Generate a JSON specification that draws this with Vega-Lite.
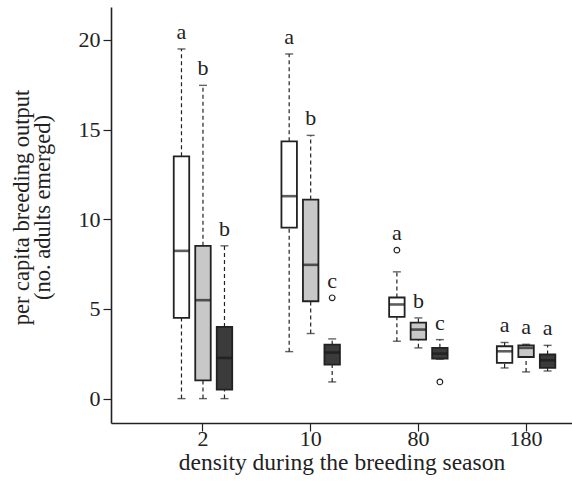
{
  "$schema": "https://vega.github.io/schema/vega-lite/v6.json",
  "autosize": {"type": "none"},
  "padding": {"left": 111, "top": 7, "right": 0, "bottom": 67},
  "width": 461,
  "height": 416,
  "background": "white",
  "config": {
    "view": {"stroke": null},
    "font": "Liberation Serif",
    "axis": {
      "labelFont": "Liberation Serif",
      "titleFont": "Liberation Serif",
      "labelFontSize": 22,
      "titleFontSize": 22.5,
      "labelColor": "#222",
      "titleColor": "#222",
      "titleFontWeight": "normal",
      "domainColor": "#222",
      "domainWidth": 1.6,
      "tickColor": "#222",
      "tickWidth": 1.2,
      "tickSize": 8,
      "grid": false
    }
  },
  "data": {
    "values": [
      {"density": "2", "treatment": "1", "min": 0, "q1": 4.5, "median": 8.24, "q3": 13.51, "max": 19.5, "outlier": null, "letter": "a"},
      {"density": "2", "treatment": "2", "min": 0, "q1": 1.02, "median": 5.49, "q3": 8.52, "max": 17.47, "outlier": null, "letter": "b"},
      {"density": "2", "treatment": "3", "min": 0, "q1": 0.5, "median": 2.27, "q3": 4.0, "max": 8.52, "outlier": null, "letter": "b"},
      {"density": "10", "treatment": "1", "min": 2.62, "q1": 9.54, "median": 11.29, "q3": 14.35, "max": 19.22, "outlier": null, "letter": "a"},
      {"density": "10", "treatment": "2", "min": 3.63, "q1": 5.43, "median": 7.46, "q3": 11.1, "max": 14.68, "outlier": null, "letter": "b"},
      {"density": "10", "treatment": "3", "min": 0.93, "q1": 1.9, "median": 2.57, "q3": 3.01, "max": 3.33, "outlier": 5.62, "letter": "c"},
      {"density": "80", "treatment": "1", "min": 3.2, "q1": 4.56, "median": 5.25, "q3": 5.64, "max": 7.07, "outlier": 8.28, "letter": "a"},
      {"density": "80", "treatment": "2", "min": 2.83, "q1": 3.29, "median": 3.85, "q3": 4.24, "max": 4.5, "outlier": null, "letter": "b"},
      {"density": "80", "treatment": "3", "min": 2.2, "q1": 2.23, "median": 2.51, "q3": 2.83, "max": 3.29, "outlier": 0.93, "letter": "c"},
      {"density": "180", "treatment": "1", "min": 1.71, "q1": 1.99, "median": 2.64, "q3": 2.92, "max": 3.13, "outlier": null, "letter": "a"},
      {"density": "180", "treatment": "2", "min": 1.49, "q1": 2.32, "median": 2.83, "q3": 2.97, "max": 3.03, "outlier": null, "letter": "a"},
      {"density": "180", "treatment": "3", "min": 1.54, "q1": 1.71, "median": 2.14, "q3": 2.46, "max": 2.97, "outlier": null, "letter": "a"}
    ]
  },
  "encoding": {
    "x": {
      "field": "density",
      "type": "nominal",
      "sort": ["2", "10", "80", "180"],
      "scale": {"paddingInner": 0.457, "paddingOuter": 0.3687, "align": 0.79},
      "axis": {"labelAngle": 0, "labelPadding": -3, "title": "density during the breeding season", "titlePadding": 1, "titleFontSize": 23.5}
    },
    "xOffset": {
      "field": "treatment",
      "type": "nominal",
      "sort": ["1", "2", "3"],
      "scale": {"paddingInner": 0.28, "paddingOuter": 0}
    }
  },
  "layer": [
    {
      "mark": {"type": "rule", "strokeDash": [4, 3], "color": "#222", "strokeWidth": 1.2},
      "encoding": {
        "y": {
          "field": "q3",
          "type": "quantitative",
          "scale": {"domain": [-1.36, 21.84], "nice": false, "zero": false},
          "axis": {
            "values": [0, 5, 10, 15, 20],
            "labelPadding": 3,
            "title": ["per capita breeding output", "(no. adults emerged)"],
            "titleLineHeight": 20.5,
            "titlePadding": 24,
            "titleY": 200
          }
        },
        "y2": {"field": "max"}
      }
    },
    {
      "mark": {"type": "rule", "strokeDash": [4, 3], "color": "#222", "strokeWidth": 1.2},
      "encoding": {
        "y": {"field": "min", "type": "quantitative"},
        "y2": {"field": "q1"}
      }
    },
    {
      "mark": {"type": "tick", "color": "#222", "size": 8, "thickness": 1.4, "orient": "horizontal"},
      "encoding": {"y": {"field": "max", "type": "quantitative"}}
    },
    {
      "mark": {"type": "tick", "color": "#222", "size": 8, "thickness": 1.4, "orient": "horizontal"},
      "encoding": {"y": {"field": "min", "type": "quantitative"}}
    },
    {
      "mark": {"type": "bar", "stroke": "#222", "strokeWidth": 1.8},
      "encoding": {
        "y": {"field": "q1", "type": "quantitative"},
        "y2": {"field": "q3"},
        "fill": {
          "field": "treatment",
          "type": "nominal",
          "scale": {"domain": ["1", "2", "3"], "range": ["#ffffff", "#c8c8c8", "#3b3b3b"]},
          "legend": null
        }
      }
    },
    {
      "mark": {"type": "tick", "color": "#1a1a1a", "size": 15.5, "thickness": 2.6, "orient": "horizontal"},
      "encoding": {"y": {"field": "median", "type": "quantitative"}}
    },
    {
      "transform": [{"filter": "isValid(datum.outlier)"}],
      "mark": {"type": "point", "shape": "circle", "size": 32, "stroke": "#222", "strokeWidth": 1.2, "filled": false, "opacity": 1},
      "encoding": {"y": {"field": "outlier", "type": "quantitative"}}
    },
    {
      "transform": [
        {"fold": ["max", "outlier"], "as": ["kind", "value"]},
        {"aggregate": [{"op": "max", "field": "value", "as": "top"}], "groupby": ["density", "treatment", "letter"]}
      ],
      "mark": {"type": "text", "font": "Liberation Serif", "fontSize": 22, "baseline": "alphabetic", "dy": -10, "color": "#222"},
      "encoding": {
        "y": {"field": "top", "type": "quantitative"},
        "text": {"field": "letter"}
      }
    }
  ]
}
